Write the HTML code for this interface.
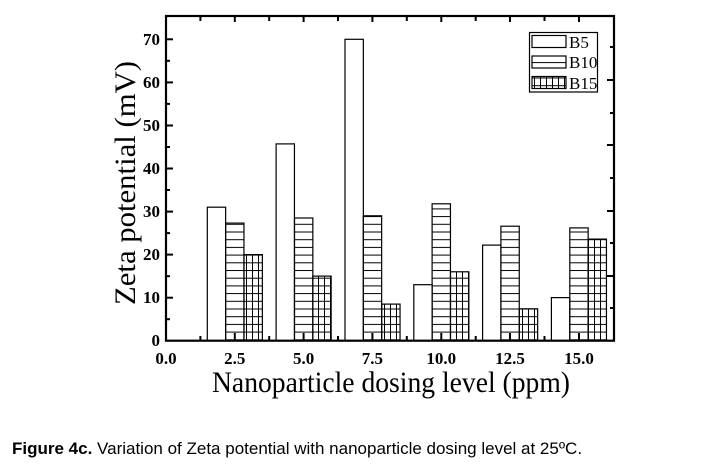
<!DOCTYPE html>
<html><head><meta charset="utf-8"><style>
html,body{margin:0;padding:0;background:#fff;width:724px;height:470px;overflow:hidden}
</style></head><body>
<svg width="724" height="470" xmlns="http://www.w3.org/2000/svg">
<defs>
<pattern id="h" width="10" height="7.7" patternUnits="userSpaceOnUse" y="0.5">
<line x1="0" y1="0.5" x2="10" y2="0.5" stroke="#000" stroke-width="1"/></pattern>
<pattern id="g" width="6" height="7.7" patternUnits="userSpaceOnUse" y="0.5">
<line x1="0" y1="0.5" x2="6" y2="0.5" stroke="#000" stroke-width="1"/>
<line x1="0.5" y1="0" x2="0.5" y2="7.7" stroke="#000" stroke-width="1"/></pattern>
</defs>
<g stroke="#000" stroke-width="1.2">
<rect x="207.3" y="207.2" width="18.35" height="133.5" fill="#fff"/>
<rect x="225.6" y="223.1" width="18.35" height="117.6" fill="url(#h)"/>
<rect x="244.0" y="254.6" width="18.35" height="86.1" fill="url(#g)"/>
<rect x="276.1" y="143.9" width="18.35" height="196.8" fill="#fff"/>
<rect x="294.5" y="218.0" width="18.35" height="122.7" fill="url(#h)"/>
<rect x="312.8" y="276.1" width="18.35" height="64.6" fill="url(#g)"/>
<rect x="345.0" y="39.3" width="18.35" height="301.4" fill="#fff"/>
<rect x="363.3" y="215.8" width="18.35" height="124.9" fill="url(#h)"/>
<rect x="381.7" y="304.1" width="18.35" height="36.6" fill="url(#g)"/>
<rect x="413.8" y="284.7" width="18.35" height="56" fill="#fff"/>
<rect x="432.1" y="203.8" width="18.35" height="136.9" fill="url(#h)"/>
<rect x="450.5" y="271.8" width="18.35" height="68.9" fill="url(#g)"/>
<rect x="482.6" y="245.1" width="18.35" height="95.6" fill="#fff"/>
<rect x="500.9" y="226.2" width="18.35" height="114.5" fill="url(#h)"/>
<rect x="519.3" y="308.8" width="18.35" height="31.9" fill="url(#g)"/>
<rect x="551.4" y="297.6" width="18.35" height="43.1" fill="#fff"/>
<rect x="569.8" y="227.9" width="18.35" height="112.8" fill="url(#h)"/>
<rect x="588.1" y="239.1" width="18.35" height="101.6" fill="url(#g)"/>
</g>
<rect x="166" y="16" width="448" height="324.7" fill="none" stroke="#000" stroke-width="2.2"/>
<g stroke="#000" stroke-width="2">
<line x1="166" y1="39.3" x2="173" y2="39.3"/><line x1="166" y1="82.4" x2="173" y2="82.4"/>
<line x1="166" y1="125.5" x2="173" y2="125.5"/><line x1="166" y1="168.5" x2="173" y2="168.5"/>
<line x1="166" y1="211.6" x2="173" y2="211.6"/><line x1="166" y1="254.6" x2="173" y2="254.6"/>
<line x1="166" y1="297.7" x2="173" y2="297.7"/>
<line x1="166" y1="60.8" x2="170" y2="60.8"/><line x1="166" y1="103.9" x2="170" y2="103.9"/>
<line x1="166" y1="147" x2="170" y2="147"/><line x1="166" y1="190" x2="170" y2="190"/>
<line x1="166" y1="233.1" x2="170" y2="233.1"/><line x1="166" y1="276.2" x2="170" y2="276.2"/>
<line x1="166" y1="319.2" x2="170" y2="319.2"/>
<line x1="234.8" y1="340" x2="234.8" y2="333"/><line x1="303.6" y1="340" x2="303.6" y2="333"/>
<line x1="372.4" y1="340" x2="372.4" y2="333"/><line x1="441.3" y1="340" x2="441.3" y2="333"/>
<line x1="510" y1="340" x2="510" y2="333"/><line x1="579" y1="340" x2="579" y2="333"/>
<line x1="200.4" y1="340" x2="200.4" y2="336"/><line x1="269.2" y1="340" x2="269.2" y2="336"/>
<line x1="338" y1="340" x2="338" y2="336"/><line x1="406.8" y1="340" x2="406.8" y2="336"/>
<line x1="475.7" y1="340" x2="475.7" y2="336"/><line x1="544.5" y1="340" x2="544.5" y2="336"/>
<line x1="200.4" y1="16" x2="200.4" y2="21"/><line x1="234.8" y1="16" x2="234.8" y2="22"/>
<line x1="269.2" y1="16" x2="269.2" y2="21"/><line x1="303.6" y1="16" x2="303.6" y2="22"/>
<line x1="338" y1="16" x2="338" y2="21"/><line x1="372.4" y1="16" x2="372.4" y2="22"/>
<line x1="406.8" y1="16" x2="406.8" y2="21"/><line x1="441.3" y1="16" x2="441.3" y2="22"/>
<line x1="475.7" y1="16" x2="475.7" y2="21"/><line x1="510" y1="16" x2="510" y2="22"/>
<line x1="544.5" y1="16" x2="544.5" y2="21"/><line x1="579" y1="16" x2="579" y2="22"/>
<line x1="614" y1="47" x2="610" y2="47"/><line x1="614" y1="80" x2="607" y2="80"/>
<line x1="614" y1="113" x2="610" y2="113"/><line x1="614" y1="145" x2="607" y2="145"/>
<line x1="614" y1="178" x2="610" y2="178"/><line x1="614" y1="211" x2="607" y2="211"/>
<line x1="614" y1="243" x2="610" y2="243"/><line x1="614" y1="276" x2="607" y2="276"/>
<line x1="614" y1="308" x2="610" y2="308"/>
</g>
<g font-family="Liberation Serif, serif" font-weight="bold" font-size="17" text-anchor="end">
<text x="160" y="45">70</text><text x="160" y="88">60</text><text x="160" y="131">50</text>
<text x="160" y="174">40</text><text x="160" y="217">30</text><text x="160" y="260">20</text>
<text x="160" y="303">10</text><text x="160" y="346">0</text>
</g>
<g font-family="Liberation Serif, serif" font-weight="bold" font-size="17" text-anchor="middle">
<text x="166" y="364">0.0</text><text x="234.8" y="364">2.5</text><text x="303.6" y="364">5.0</text>
<text x="372.4" y="364">7.5</text><text x="441.3" y="364">10.0</text><text x="510" y="364">12.5</text>
<text x="579" y="364">15.0</text>
</g>
<text x="391" y="392" font-family="Liberation Serif, serif" font-size="30" text-anchor="middle" textLength="358" lengthAdjust="spacingAndGlyphs">Nanoparticle dosing level (ppm)</text>
<text transform="translate(135,183) rotate(-90)" font-family="Liberation Serif, serif" font-size="30" text-anchor="middle" textLength="244" lengthAdjust="spacingAndGlyphs">Zeta potential (mV)</text>
<rect x="529.5" y="32.5" width="68" height="59.5" fill="#fff" stroke="#000" stroke-width="1.2"/>
<rect x="532" y="35.5" width="34" height="12" fill="#fff" stroke="#000" stroke-width="1.2"/>
<rect x="532" y="56" width="34" height="12" fill="url(#h)" stroke="#000" stroke-width="1.2"/>
<rect x="532" y="76.5" width="34" height="12" fill="url(#g)" stroke="#000" stroke-width="1.2"/>
<g font-family="Liberation Serif, serif" font-size="17">
<text x="569" y="48">B5</text><text x="569" y="68">B10</text><text x="569" y="89">B15</text>
</g>
<text x="12" y="454" font-family="Liberation Sans, sans-serif" font-size="17"><tspan font-weight="bold">Figure 4c.</tspan> Variation of Zeta potential with nanoparticle dosing level at 25ºC.</text>
</svg>
</body></html>
